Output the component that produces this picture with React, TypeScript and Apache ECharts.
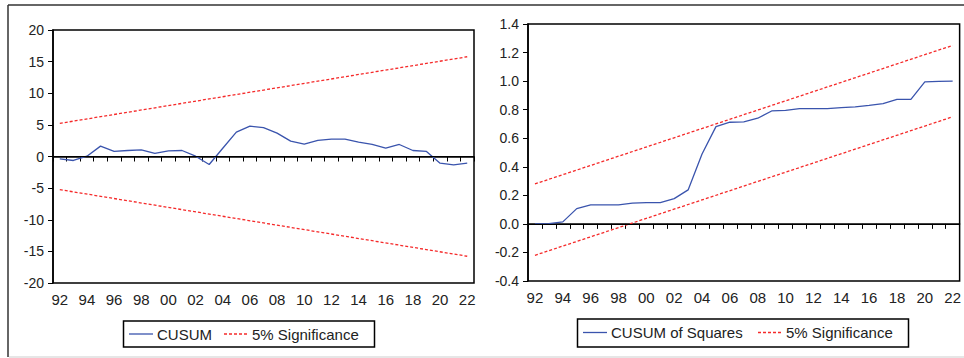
import React, { useEffect, useRef } from "react";
import * as echarts from "echarts";

const years: string[] = [
  "92", "93", "94", "95", "96", "97", "98", "99", "00", "01", "02",
  "03", "04", "05", "06", "07", "08", "09", "10", "11", "12",
  "13", "14", "15", "16", "17", "18", "19", "20", "21", "22",
];

const cusum: number[] = [
  -0.37, -0.63, 0.05, 1.64, 0.8, 0.95, 1.06, 0.48, 0.9, 0.95, 0.05,
  -1.27, 1.3, 3.86, 4.81, 4.55, 3.7, 2.43, 1.96, 2.54, 2.75,
  2.75, 2.28, 1.9, 1.32, 1.9, 0.95, 0.8, -1.06, -1.32, -1.06,
];

const cusumSq: number[] = [
  0.0, 0.002, 0.014, 0.107, 0.133, 0.133, 0.133, 0.145, 0.149, 0.149, 0.177,
  0.238, 0.49, 0.681, 0.712, 0.714, 0.74, 0.791, 0.795, 0.807, 0.807,
  0.807, 0.814, 0.819, 0.83, 0.842, 0.872, 0.872, 0.995, 0.998, 1.0,
];

// 5% significance bounds: values read at first and last year
const cusumUpper: number[] = [5.24, 15.77];
const cusumLower: number[] = [-5.24, -15.77];
const sqUpper: number[] = [0.28, 1.25];
const sqLower: number[] = [-0.22, 0.75];

const legendLeft: string[] = ["CUSUM", "5% Significance"];
const legendRight: string[] = ["CUSUM of Squares", "5% Significance"];

const FONT = "'Liberation Sans', Arial, sans-serif";
const BLUE = "#3a54ad";
const RED = "#f52a2a";
const DASH = [3, 2];

function ends(v: number[]) {
  return [
    [0, v[0]],
    [years.length - 1, v[1]],
  ];
}

function legendBox(
  box: { x: number; y: number; w: number; h: number },
  cy: number,
  items: { x: number; tx: number; label: string; color: string; dashed: boolean }[]
) {
  const els: any[] = [
    {
      type: "rect",
      shape: { x: box.x, y: box.y, width: box.w, height: box.h },
      style: { fill: "#fff", stroke: "#000", lineWidth: 1.5 },
      z: 10,
    },
  ];
  items.forEach((it) => {
    els.push({
      type: "line",
      shape: { x1: it.x, y1: cy, x2: it.x + 24, y2: cy },
      style: { stroke: it.color, lineWidth: 1.3, lineDash: it.dashed ? DASH : null },
      z: 11,
    });
    els.push({
      type: "text",
      x: it.tx,
      y: cy,
      style: {
        text: it.label,
        fontSize: 15,
        fontFamily: FONT,
        fill: "#222",
        verticalAlign: "middle",
        align: "left",
      },
      z: 11,
    });
  });
  return els;
}

export default function App() {
  const ref = useRef<HTMLDivElement>(null);

  useEffect(() => {
    document.body.style.margin = "0";
    if (!ref.current) return;
    const chart = echarts.init(ref.current, undefined, { renderer: "svg" });

    const xAxisBase = (gridIndex: number) => ({
      type: "category" as const,
      gridIndex,
      data: years,
      boundaryGap: true,
      axisLine: { show: true, lineStyle: { color: "#000", width: 1.5 } },
      axisTick: {
        show: true,
        interval: 0,
        length: 5,
        inside: false,
        lineStyle: { color: "#000", width: 1 },
      },
      axisLabel: {
        interval: 1,
        fontSize: 15,
        color: "#222",
        fontFamily: FONT,
        margin: 9,
      },
      splitLine: { show: false },
    });

    const yAxisBase = (gridIndex: number, min: number, max: number, interval: number, dec: number) => ({
      type: "value" as const,
      gridIndex,
      min,
      max,
      interval,
      axisLine: { show: true, lineStyle: { color: "#000", width: 1.5 } },
      axisTick: { show: true, length: 5, lineStyle: { color: "#000", width: 1 } },
      axisLabel: {
        fontSize: 14,
        color: "#222",
        fontFamily: FONT,
        margin: 9,
        formatter: (v: number) => v.toFixed(dec),
      },
      splitLine: { show: false },
    });

    const zeroLine = {
      silent: true,
      symbol: ["none", "none"],
      label: { show: false },
      lineStyle: { color: "#000", type: "solid" as const, width: 1.2 },
      data: [{ yAxis: 0 }],
    };

    const graphics: any[] = [
      { type: "line", shape: { x1: 8, y1: 5, x2: 964, y2: 5 }, style: { stroke: "#333", lineWidth: 1.5 } },
      { type: "line", shape: { x1: 8, y1: 5, x2: 8, y2: 357 }, style: { stroke: "#333", lineWidth: 1.5 } },
      { type: "rect", shape: { x: 9, y: 356, width: 955, height: 2 }, style: { fill: "#e6e6e6" } },
      ...legendBox({ x: 123.5, y: 321, w: 251, h: 26 }, 334, [
        { x: 129, tx: 157, label: legendLeft[0], color: BLUE, dashed: false },
        { x: 224, tx: 252, label: legendLeft[1], color: RED, dashed: true },
      ]),
      ...legendBox({ x: 577.5, y: 319, w: 331, h: 28 }, 332.5, [
        { x: 583, tx: 611, label: legendRight[0], color: BLUE, dashed: false },
        { x: 758, tx: 786, label: legendRight[1], color: RED, dashed: true },
      ]),
    ];

    chart.setOption({
      animation: false,
      backgroundColor: "#fff",
      textStyle: { fontFamily: FONT },
      grid: [
        {
          left: 53, top: 30, width: 421, height: 253,
          show: true, borderColor: "#000", borderWidth: 1.5, backgroundColor: "transparent",
        },
        {
          left: 528, top: 24, width: 432, height: 257,
          show: true, borderColor: "#000", borderWidth: 1.5, backgroundColor: "transparent",
        },
      ],
      xAxis: [xAxisBase(0), xAxisBase(1)],
      yAxis: [yAxisBase(0, -20, 20, 5, 0), yAxisBase(1, -0.4, 1.4, 0.2, 1)],
      graphic: graphics,
      series: [
        {
          name: "CUSUM",
          type: "line",
          xAxisIndex: 0,
          yAxisIndex: 0,
          data: cusum,
          symbol: "none",
          lineStyle: { color: BLUE, width: 1.3 },
          itemStyle: { color: BLUE },
          markLine: zeroLine,
          z: 3,
        },
        {
          name: "5% Significance",
          type: "line",
          xAxisIndex: 0,
          yAxisIndex: 0,
          data: ends(cusumUpper),
          symbol: "none",
          lineStyle: { color: RED, width: 1.3, type: DASH },
          itemStyle: { color: RED },
        },
        {
          name: "5% Significance",
          type: "line",
          xAxisIndex: 0,
          yAxisIndex: 0,
          data: ends(cusumLower),
          symbol: "none",
          lineStyle: { color: RED, width: 1.3, type: DASH },
          itemStyle: { color: RED },
        },
        {
          name: "CUSUM of Squares",
          type: "line",
          xAxisIndex: 1,
          yAxisIndex: 1,
          data: cusumSq,
          symbol: "none",
          lineStyle: { color: BLUE, width: 1.3 },
          itemStyle: { color: BLUE },
          markLine: zeroLine,
          z: 3,
        },
        {
          name: "5% Significance",
          type: "line",
          xAxisIndex: 1,
          yAxisIndex: 1,
          data: ends(sqUpper),
          symbol: "none",
          lineStyle: { color: RED, width: 1.3, type: DASH },
          itemStyle: { color: RED },
        },
        {
          name: "5% Significance",
          type: "line",
          xAxisIndex: 1,
          yAxisIndex: 1,
          data: ends(sqLower),
          symbol: "none",
          lineStyle: { color: RED, width: 1.3, type: DASH },
          itemStyle: { color: RED },
        },
      ],
    });

    return () => {
      chart.dispose();
    };
  }, []);

  return <div ref={ref} style={{ width: 964, height: 358 }} />;
}
